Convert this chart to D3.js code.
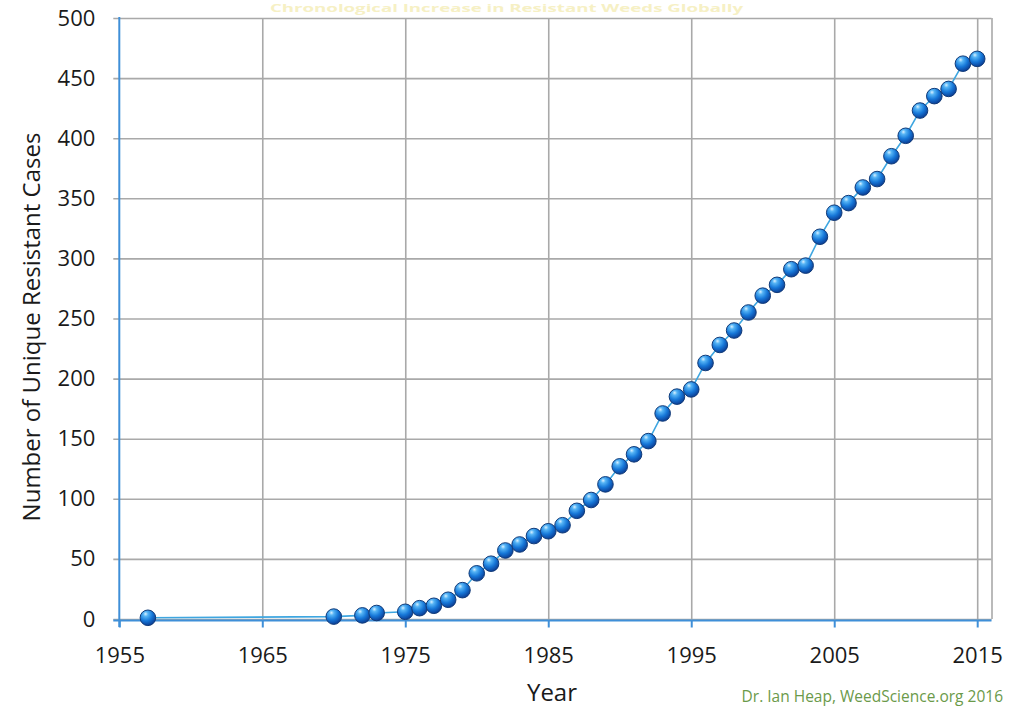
<!DOCTYPE html>
<html>
<head>
<meta charset="utf-8">
<script src="https://cdn.jsdelivr.net/npm/d3@7"></script>
<style>
  html, body { margin: 0; padding: 0; background: #fff; }
  svg { display: block; font-family: "Open Sans", "DejaVu Sans", sans-serif; }
</style>
</head>
<body>
<svg id="chart" width="1016" height="707"></svg>
<script>
const years = [1957, 1970, 1972, 1973, 1975, 1976, 1977, 1978, 1979, 1980,
  1981, 1982, 1983, 1984, 1985, 1986, 1987, 1988, 1989, 1990,
  1991, 1992, 1993, 1994, 1995, 1996, 1997, 1998, 1999, 2000,
  2001, 2002, 2003, 2004, 2005, 2006, 2007, 2008, 2009, 2010,
  2011, 2012, 2013, 2014, 2015];
const cases = [1, 2, 3, 5, 6, 9, 11, 16, 24, 38,
  46, 57, 62, 69, 73, 78, 90, 99, 112, 127,
  137, 148, 171, 185, 191, 213, 228, 240, 255, 269,
  278, 291, 294, 318, 338, 346, 359, 366, 385, 402,
  423, 435, 441, 462, 466];
const xTicks = [1955, 1965, 1975, 1985, 1995, 2005, 2015];
const yTicks = [0, 50, 100, 150, 200, 250, 300, 350, 400, 450, 500];
const titleText = "Chronological Increase in Resistant Weeds Globally";
const xLabel = "Year";
const yLabel = "Number of Unique Resistant Cases";
const credit = "Dr. Ian Heap, WeedScience.org 2016";

(function () {
const svg = d3.select("#chart");
const pL = 119.3, pR = 991.5, pT = 18, pB = 619;
const x = d3.scaleLinear().domain([1955, 2016]).range([pL, pR]);
const y = d3.scaleLinear().domain([0, 500]).range([pB, pT]);

svg.append("rect").attr("width", 1016).attr("height", 707).attr("fill", "#fff");

const defs = svg.append("defs");
const grad = defs.append("radialGradient").attr("id", "ball")
  .attr("cx", "38%").attr("cy", "30%").attr("r", "70%").attr("fx", "35%").attr("fy", "25%");
grad.append("stop").attr("offset", "0%").attr("stop-color", "#d8f0ff");
grad.append("stop").attr("offset", "22%").attr("stop-color", "#55b4f5");
grad.append("stop").attr("offset", "60%").attr("stop-color", "#1677d8");
grad.append("stop").attr("offset", "100%").attr("stop-color", "#0b3f96");

// faint title strip at the top
svg.append("text").attr("x", 270).attr("y", 12)
  .attr("textLength", 473).attr("lengthAdjust", "spacingAndGlyphs")
  .attr("font-size", 10).attr("font-weight", "bold").attr("fill", "#f6f0c4")
  .text(titleText);

// horizontal gridlines
svg.append("g").attr("transform", `translate(${pR},0)`)
  .call(d3.axisLeft(y).tickValues(yTicks).tickSize(pR - pL + 6).tickFormat(""))
  .call(g => g.select(".domain").remove())
  .call(g => g.selectAll(".tick line").attr("stroke", "#a9a9a9").attr("stroke-width", 1.6));

// vertical gridlines
svg.append("g").attr("transform", `translate(0,${pB})`)
  .call(d3.axisTop(x).tickValues(xTicks.slice(1).concat([2016])).tickSize(pB - pT).tickFormat(""))
  .call(g => g.select(".domain").remove())
  .call(g => g.selectAll(".tick line").attr("stroke", "#a9a9a9").attr("stroke-width", 1.6));

// y axis labels
svg.append("g").attr("transform", `translate(${pL},0)`)
  .call(d3.axisLeft(y).tickValues(yTicks).tickSize(6).tickPadding(18))
  .call(g => g.select(".domain").remove())
  .call(g => g.selectAll(".tick line").remove())
  .call(g => g.selectAll("text").attr("font-size", 22).attr("fill", "#1a1a1a")
    .attr("font-family", "'Open Sans', sans-serif"));

// x axis
svg.append("g").attr("transform", `translate(0,${pB + 1.5})`)
  .call(d3.axisBottom(x).tickValues(xTicks).tickFormat(d3.format("d")).tickSize(7).tickPadding(20))
  .call(g => g.select(".domain").remove())
  .call(g => g.selectAll(".tick line").attr("stroke", "#3f8fd8").attr("stroke-width", 2))
  .call(g => g.selectAll("text").attr("font-size", 22).attr("fill", "#1a1a1a")
    .attr("font-family", "'Open Sans', sans-serif"));

// blue axis lines
svg.append("line").attr("x1", pL - 6).attr("x2", pR).attr("y1", pB + 1.5).attr("y2", pB + 1.5)
  .attr("stroke", "#3f8fd8").attr("stroke-width", 2);
svg.append("line").attr("x1", pL).attr("x2", pL).attr("y1", pT - 1).attr("y2", pB + 8)
  .attr("stroke", "#3f8fd8").attr("stroke-width", 2);

// data line
const data = years.map((yr, i) => ({ yr, v: cases[i] }));
svg.append("path").datum(data)
  .attr("fill", "none").attr("stroke", "#3ea6e0").attr("stroke-width", 1.6)
  .attr("d", d3.line().x(d => x(d.yr)).y(d => y(d.v)));

// markers
svg.append("g").selectAll("circle").data(data).join("circle")
  .attr("cx", d => x(d.yr)).attr("cy", d => y(d.v)).attr("r", 7.8)
  .attr("fill", "url(#ball)").attr("stroke", "#123b78").attr("stroke-width", 1);

// axis titles
svg.append("text").attr("x", 552).attr("y", 701).attr("text-anchor", "middle")
  .attr("font-size", 24).attr("fill", "#1a1a1a").text(xLabel);
svg.append("text").attr("transform", "translate(40,327) rotate(-90)").attr("text-anchor", "middle")
  .attr("font-size", 24).attr("fill", "#1a1a1a").text(yLabel);

// credit
svg.append("text").attr("x", 1003).attr("y", 702).attr("text-anchor", "end")
  .attr("font-size", 15.5).attr("fill", "#6b9a4a").text(credit);
})();
</script>
</body>
</html>
